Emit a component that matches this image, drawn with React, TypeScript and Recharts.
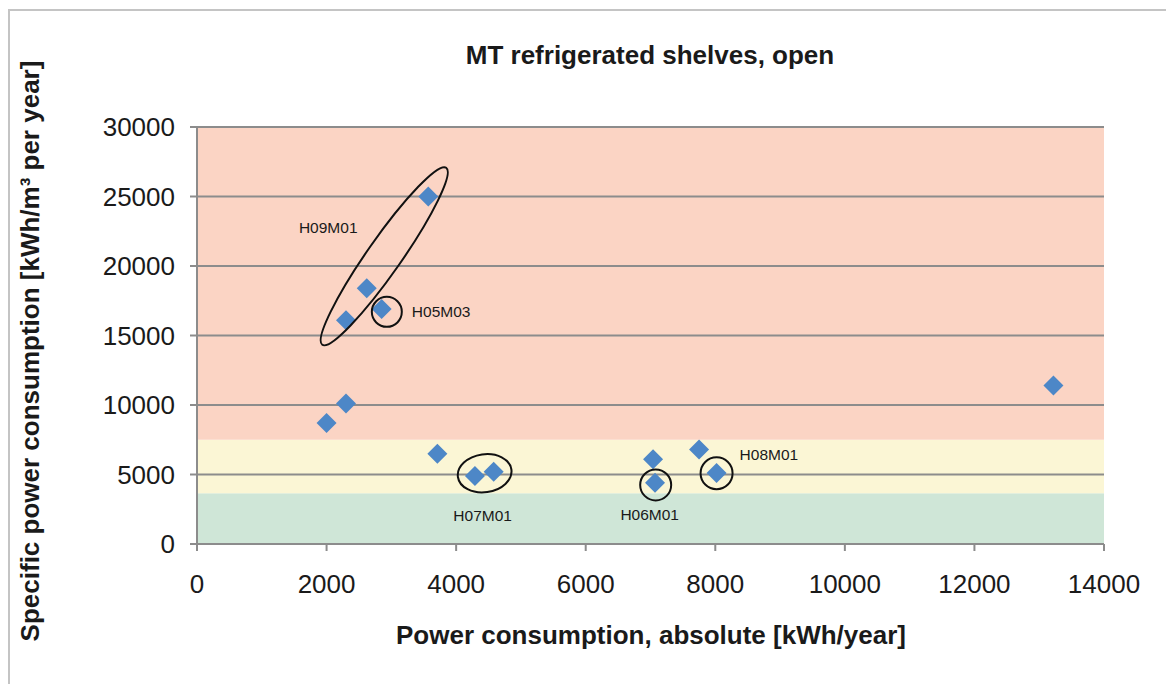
import React from "react";
import {
  ReferenceArea,
  ReferenceDot,
  ReferenceLine,
  Scatter,
  ScatterChart,
  XAxis,
  YAxis,
} from "recharts";

// measured shelves: absolute consumption vs specific consumption
const absolutePower = [2000, 2300, 2300, 2620, 2850, 3570, 3710, 4290, 4580, 7040, 7070, 7750, 8020, 13220];
const specificPower = [8700, 10100, 16100, 18400, 16900, 25000, 6500, 4900, 5200, 6100, 4400, 6800, 5100, 11400];

const xTicks = [0, 2000, 4000, 6000, 8000, 10000, 12000, 14000];
const yTicks = [0, 5000, 10000, 15000, 20000, 25000, 30000];

// rating bands (green / yellow / red)
const bandLimits = [0, 3650, 7500, 30000];

const annotationNames = ["H09M01", "H05M03", "H07M01", "H06M01", "H08M01"];
const annotationX = [2890, 2930, 4440, 7080, 8020];
const annotationY = [20700, 16700, 5090, 4250, 5090];

const points = absolutePower.map((x, i) => ({ x, y: specificPower[i] }));

const theme = {
  bands: ["#cfe6d7", "#fbf6d5", "#fbd4c4"],
  grid: "#8c8c8c",
  point: "#4d87c7",
  text: "#1a1a1a",
  font: "'Liberation Sans', Arial, sans-serif",
};

const ringStyle: Record<string, { rx: number; ry: number; angle: number; dx: number; dy: number; anchor: "start" | "middle" }> = {
  H09M01: { rx: 108, ry: 17, angle: -55, dx: -56, dy: -29, anchor: "middle" },
  H05M03: { rx: 15, ry: 15, angle: 0, dx: 25, dy: 0, anchor: "start" },
  H07M01: { rx: 27, ry: 19, angle: -8, dx: -2, dy: 42, anchor: "middle" },
  H06M01: { rx: 15.5, ry: 15.5, angle: 0, dx: -6, dy: 30, anchor: "middle" },
  H08M01: { rx: 16, ry: 16, angle: 0, dx: 23, dy: -19, anchor: "start" },
};

function Diamond(props: any) {
  const { cx, cy } = props;
  const r = 10;
  return (
    <polygon
      points={`${cx},${cy - r} ${cx + r},${cy} ${cx},${cy + r} ${cx - r},${cy}`}
      fill={theme.point}
    />
  );
}

function ring(name: string) {
  const s = ringStyle[name];
  return (props: any) => {
    const { cx, cy } = props;
    return (
      <g>
        <ellipse
          cx={cx}
          cy={cy}
          rx={s.rx}
          ry={s.ry}
          fill="none"
          stroke="#111"
          strokeWidth={2}
          transform={`rotate(${s.angle} ${cx} ${cy})`}
        />
        <text
          x={cx + s.dx}
          y={cy + s.dy}
          textAnchor={s.anchor}
          dominantBaseline="central"
          fontSize={15.5}
          fontFamily={theme.font}
          fill={theme.text}
        >
          {name}
        </text>
      </g>
    );
  };
}

export default function App() {
  return (
    <div style={{ position: "absolute", left: 0, top: 0, width: 1166, height: 684, background: "#fff", fontFamily: theme.font }}>
      <div
        style={{
          position: "absolute",
          left: 8,
          top: 9,
          right: 0,
          bottom: 0,
          borderTop: "2px solid #c4c4c4",
          borderLeft: "2px solid #c4c4c4",
        }}
      />
      <div
        style={{
          position: "absolute",
          left: 450,
          width: 400,
          top: 40,
          textAlign: "center",
          fontSize: 26,
          fontWeight: "bold",
          color: theme.text,
        }}
      >
        MT refrigerated shelves, open
      </div>
      <div
        style={{
          position: "absolute",
          left: 651 - 300,
          width: 600,
          top: 620,
          textAlign: "center",
          fontSize: 26,
          fontWeight: "bold",
          color: theme.text,
        }}
      >
        Power consumption, absolute [kWh/year]
      </div>
      <div
        style={{
          position: "absolute",
          left: 30 - 320,
          top: 351 - 16,
          width: 640,
          height: 32,
          lineHeight: "32px",
          textAlign: "center",
          fontSize: 26,
          fontWeight: "bold",
          color: theme.text,
          transform: "rotate(-90deg)",
          whiteSpace: "nowrap",
        }}
      >
        Specific power consumption [kWh/m³ per year]
      </div>
      <ScatterChart
        width={1166}
        height={684}
        margin={{ top: 127, right: 62, bottom: 80, left: 0 }}
        style={{ position: "absolute", left: 0, top: 0 }}
      >
        <XAxis
          type="number"
          dataKey="x"
          domain={[0, 14000]}
          ticks={xTicks}
          height={60}
          tickSize={7}
          tickMargin={24}
          stroke={theme.grid}
          strokeWidth={2}
          tick={{ fill: theme.text, fontSize: 26, fontFamily: theme.font }}
        />
        <YAxis
          type="number"
          dataKey="y"
          domain={[0, 30000]}
          ticks={yTicks}
          width={197}
          tickSize={7}
          tickMargin={15}
          stroke={theme.grid}
          strokeWidth={2}
          tick={{ fill: theme.text, fontSize: 26, fontFamily: theme.font }}
        />
        {theme.bands.map((fill, i) => (
          <ReferenceArea
            key={`band-${i}`}
            y1={bandLimits[i]}
            y2={bandLimits[i + 1]}
            fill={fill}
            fillOpacity={1}
            stroke="none"
          />
        ))}
        {yTicks.slice(1).map((t) => (
          <ReferenceLine key={`grid-${t}`} y={t} stroke={theme.grid} strokeWidth={2} />
        ))}
        <Scatter data={points} shape={Diamond} isAnimationActive={false} />
        {annotationNames.map((name, i) => (
          <ReferenceDot
            key={name}
            x={annotationX[i]}
            y={annotationY[i]}
            shape={ring(name)}
          />
        ))}
      </ScatterChart>
    </div>
  );
}
